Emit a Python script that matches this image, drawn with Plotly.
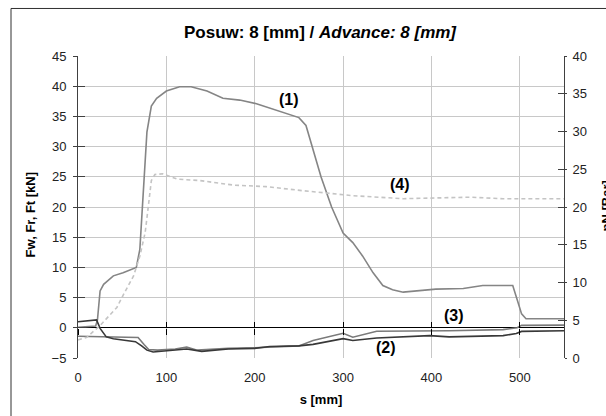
import plotly.graph_objects as go

# ---- data ----
s_fw = [0, 20, 22, 25, 29, 40, 51, 66, 70, 73, 76, 78, 83, 89, 100, 115, 128, 146, 164, 183, 202, 217, 236, 250, 258, 265, 275, 287, 300, 311, 322, 334, 345, 356, 368, 405, 436, 458, 492, 498, 502, 507, 550]
v_fw = [0.1, 0.3, 1.3, 6.1, 7.2, 8.6, 9.1, 10.0, 13.0, 20.0, 28.0, 32.4, 36.7, 38.0, 39.2, 39.9, 39.9, 39.2, 38.0, 37.7, 37.1, 36.4, 35.5, 34.8, 33.5, 30.0, 25.0, 20.0, 15.7, 14.1, 11.9, 9.1, 7.0, 6.3, 5.9, 6.4, 6.5, 7.0, 7.0, 4.2, 2.3, 1.5, 1.5]

s_fr = [0, 18, 21, 25, 32, 40, 55, 65, 72, 78, 85, 100, 110, 123, 140, 170, 200, 217, 250, 266, 300, 311, 338, 398, 420, 481, 496, 502, 550]
v_fr = [1.0, 1.2, 1.3, -0.1, -1.5, -1.8, -2.05, -2.3, -3.0, -3.7, -4.0, -3.8, -3.6, -3.5, -3.9, -3.5, -3.4, -3.1, -3.0, -2.75, -1.8, -2.1, -1.7, -1.3, -1.5, -1.3, -0.95, -0.6, -0.5]

s_ft = [0, 30, 60, 68, 75, 80, 90, 110, 123, 135, 170, 200, 250, 266, 300, 311, 338, 420, 481, 497, 502, 550]
v_ft = [-1.4, -1.45, -1.5, -1.6, -2.8, -3.6, -3.7, -3.5, -3.2, -3.7, -3.4, -3.3, -3.0, -2.1, -0.9, -1.55, -0.57, -0.5, -0.3, 0.0, 0.4, 0.45]

s_pn = [0, 10, 25, 44, 51, 63, 70, 76, 80, 83, 87, 96, 112, 138, 176, 213, 251, 311, 368, 443, 481, 550]
v_pn = [2.4, 2.75, 4.3, 6.7, 8.3, 10.9, 13.5, 16.6, 20.5, 23.5, 24.3, 24.4, 23.7, 23.5, 22.9, 22.7, 22.2, 21.5, 21.1, 21.3, 21.1, 21.1]

x_ticks = [0, 100, 200, 300, 400, 500]
title_text = "<b>Posuw: 8 [mm] / <i>Advance: 8 [mm]</i></b>"
labels = ["(1)", "(2)", "(3)", "(4)"]
label_s = [239, 348, 426, 364]
label_v = [37.8, -3.2, 2.0, 23.8]

FONT = "Liberation Sans, Arial, sans-serif"
AX = "#404040"
GRID = "#c8c8c8"

fig = go.Figure()
fig.add_trace(go.Scatter(x=s_pn, y=v_pn, yaxis="y2", mode="lines",
                         line=dict(color="#c4c4c4", width=1.6, dash="4px,3px"), showlegend=False))
fig.add_trace(go.Scatter(x=s_fw, y=v_fw, mode="lines",
                         line=dict(color="#858585", width=1.6), showlegend=False))
fig.add_trace(go.Scatter(x=s_ft, y=v_ft, mode="lines",
                         line=dict(color="#7a7a7a", width=1.6), showlegend=False))
fig.add_trace(go.Scatter(x=s_fr, y=v_fr, mode="lines",
                         line=dict(color="#383838", width=1.6), showlegend=False))
# helper empty traces so the cross-tick axes render
fig.add_trace(go.Scatter(x=[], y=[], xaxis="x2", yaxis="y3", showlegend=False))
fig.add_trace(go.Scatter(x=[], y=[], xaxis="x3", yaxis="y4", showlegend=False))

for i, t in enumerate(labels):
    fig.add_annotation(x=label_s[i], y=label_v[i], text="<b>%s</b>" % t, showarrow=False,
                       font=dict(family=FONT, size=16, color="black"))

fig.update_layout(
    width=606, height=416,
    margin=dict(l=78, r=42, t=56, b=55),
    paper_bgcolor="white", plot_bgcolor="white",
    font=dict(family=FONT, size=13, color="#222"),
    title=dict(text=title_text, x=320 / 606, xanchor="center", y=1 - 32 / 416, yanchor="middle",
               yref="container", font=dict(family=FONT, size=17, color="black")),
    xaxis=dict(range=[0, 550], tickvals=x_ticks, showgrid=True, gridcolor=GRID, gridwidth=1,
               zeroline=False, showline=False, ticks="", ticklabelstandoff=10,
               title=dict(text="<b>s [mm]</b>", font=dict(size=13, color="black"), standoff=10)),
    xaxis2=dict(range=[0, 550], tickvals=x_ticks, overlaying="x", anchor="free", position=0.1,
                showgrid=False, zeroline=False, showline=False, ticks="outside", ticklen=6,
                tickcolor="black", showticklabels=False),
    xaxis3=dict(range=[0, 550], tickvals=x_ticks, overlaying="x", anchor="free", position=0.1,
                showgrid=False, zeroline=False, showline=False, ticks="inside", ticklen=6,
                tickcolor="black", showticklabels=False),
    yaxis=dict(range=[-5, 45], dtick=5, showgrid=True, gridcolor=GRID, gridwidth=1,
               zeroline=True, zerolinecolor="black", zerolinewidth=1,
               showline=True, linecolor=AX, linewidth=1, ticks="inside", ticklen=7, tickcolor=AX,
               ticklabelstandoff=8),
    yaxis2=dict(range=[0, 40], dtick=5, overlaying="y", side="right", showgrid=False, zeroline=False,
                showline=True, linecolor=AX, linewidth=1, ticks="inside", ticklen=6, tickcolor=AX,
                ticklabelstandoff=5),
    yaxis3=dict(range=[-5, 45], dtick=5, overlaying="y", side="left", showgrid=False, zeroline=False,
                showline=False, ticks="outside", ticklen=4, tickcolor=AX, showticklabels=False),
    yaxis4=dict(range=[0, 40], dtick=5, overlaying="y", side="right", showgrid=False, zeroline=False,
                showline=False, ticks="outside", ticklen=2, tickcolor=AX, showticklabels=False),
)

# axis titles
fig.add_annotation(xref="paper", yref="paper", x=(30 - 78) / 486, y=(361 - 217) / 305,
                   text="<b>Fw, Fr, Ft [kN]</b>", textangle=-90, showarrow=False,
                   xanchor="center", yanchor="middle", font=dict(family=FONT, size=13, color="black"))
fig.add_annotation(xref="paper", yref="paper", x=(607 - 78) / 486, y=(361 - 208) / 305,
                   text="<b>pN [Bar]</b>", textangle=-90, showarrow=False,
                   xanchor="center", yanchor="middle", font=dict(family=FONT, size=13, color="black"))

# outer frame
fig.add_shape(type="rect", xref="paper", yref="paper",
              x0=(11 - 78) / 486, x1=1.5, y0=-0.5, y1=(361 - 8) / 305,
              line=dict(color="#303030", width=1), fillcolor="rgba(0,0,0,0)", layer="above")

fig.write_html("out.html", config={"displayModeBar": False, "staticPlot": True},
               post_script="document.body.style.margin='0';document.body.style.overflow='hidden';")
